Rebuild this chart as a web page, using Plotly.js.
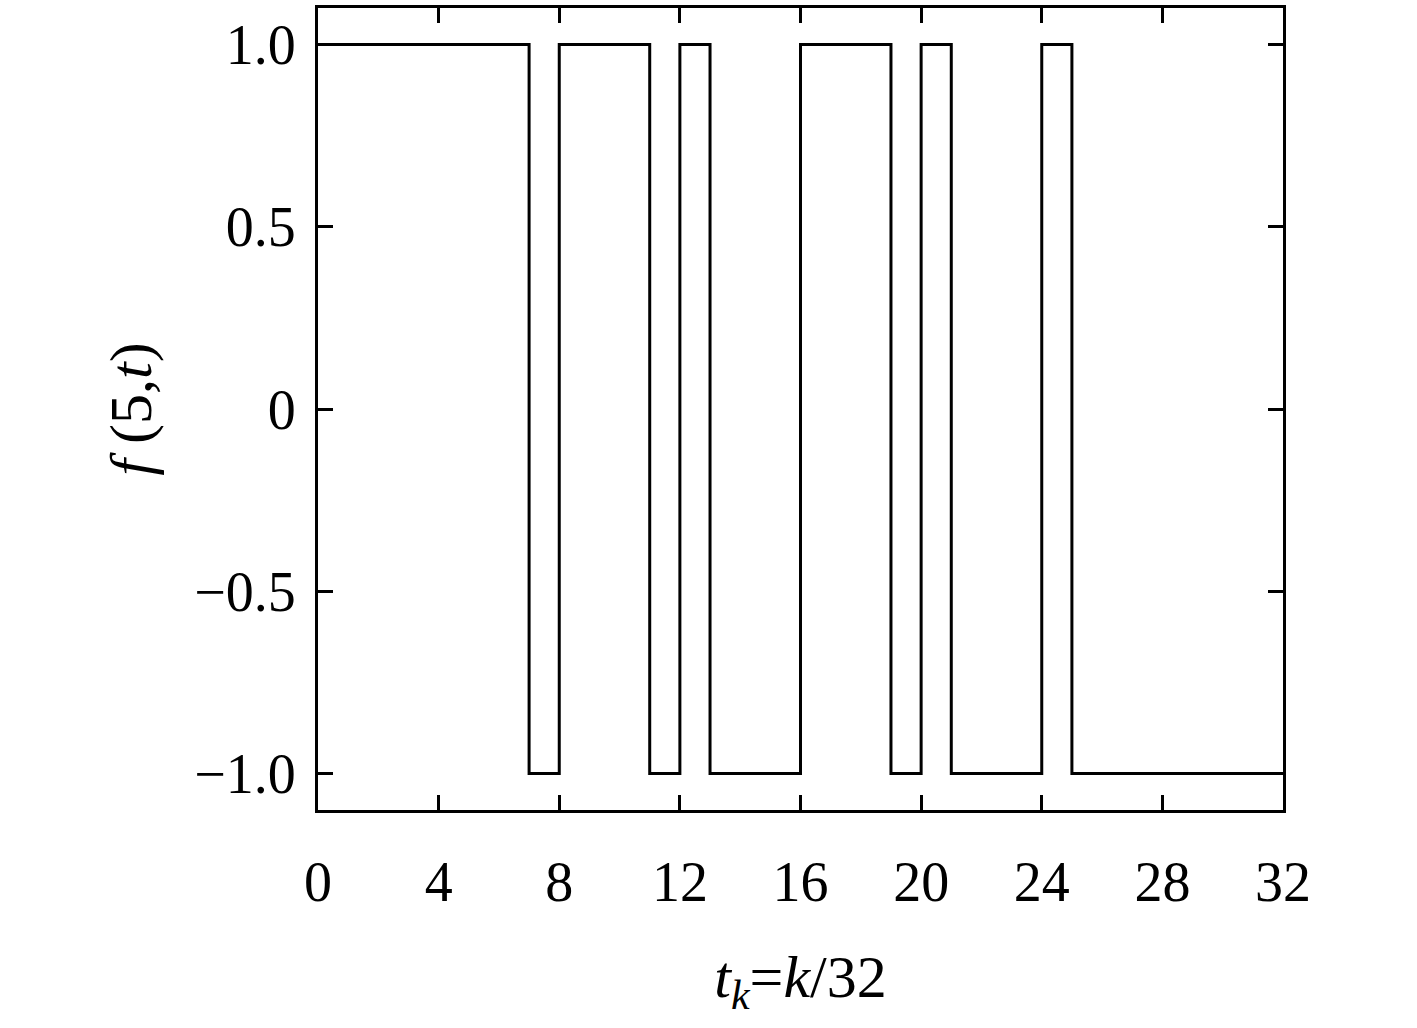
<!DOCTYPE html>
<html>
<head>
<meta charset="utf-8">
<script src="https://cdn.plot.ly/plotly-3.0.1.min.js"></script>
<style>
  html, body { margin: 0; padding: 0; background: #fff; }
  #chart { width: 1417px; height: 1028px; }
</style>
</head>
<body>
<div id="chart"></div>
<script>
// sample index k and value of f(5, t_k), held until next sample
const k = [0, 1, 2, 3, 4, 5, 6, 7, 8, 9, 10, 11, 12, 13, 14, 15,
           16, 17, 18, 19, 20, 21, 22, 23, 24, 25, 26, 27, 28, 29, 30, 31, 32];
const f = [1, 1, 1, 1, 1, 1, 1, -1, 1, 1, 1, -1, 1, -1, -1, -1,
           1, 1, 1, -1, 1, -1, -1, -1, 1, -1, -1, -1, -1, -1, -1, -1, -1];
const xTicks = [0, 4, 8, 12, 16, 20, 24, 28, 32];
const yTicks = [-1, -0.5, 0, 0.5, 1];
const yTickText = ["\u22121.0", "\u22120.5", "0", "0.5", "1.0"];

const font = "'Liberation Serif', 'DejaVu Serif', serif";

const data = [{
  x: k,
  y: f,
  type: "scatter",
  mode: "lines",
  line: { shape: "hv", color: "#000", width: 3 },
  hoverinfo: "x+y"
}];

const axisCommon = {
  showgrid: false,
  zeroline: false,
  showline: true,
  linecolor: "#000",
  linewidth: 3,
  mirror: "ticks",
  ticks: "inside",
  ticklen: 15,
  tickwidth: 3,
  tickcolor: "#000",
  tickfont: { family: font, size: 56, color: "#000" }
};

const layout = {
  width: 1417,
  height: 1028,
  margin: { l: 318, r: 134, t: 8, b: 218 },
  paper_bgcolor: "#fff",
  plot_bgcolor: "#fff",
  showlegend: false,
  font: { family: font, color: "#000" },
  xaxis: Object.assign({}, axisCommon, {
    range: [0, 32],
    tickvals: xTicks,
    ticktext: xTicks.map(String),
    ticklabelstandoff: 21,
    title: { text: "<i>t</i><sub><i>k</i></sub>=<i>k</i>/32", font: { family: font, size: 60, color: "#000" }, standoff: 43 }
  }),
  yaxis: Object.assign({}, axisCommon, {
    range: [-1.1, 1.1],
    tickvals: yTicks,
    ticktext: yTickText,
    ticklabelstandoff: 8,
    title: { text: "<i>f</i> (5,<i>t</i>)", font: { family: font, size: 60, color: "#000" }, standoff: 24 }
  })
};

Plotly.newPlot(document.getElementById("chart"), data, layout, { displayModeBar: false, staticPlot: true });
</script>
</body>
</html>
